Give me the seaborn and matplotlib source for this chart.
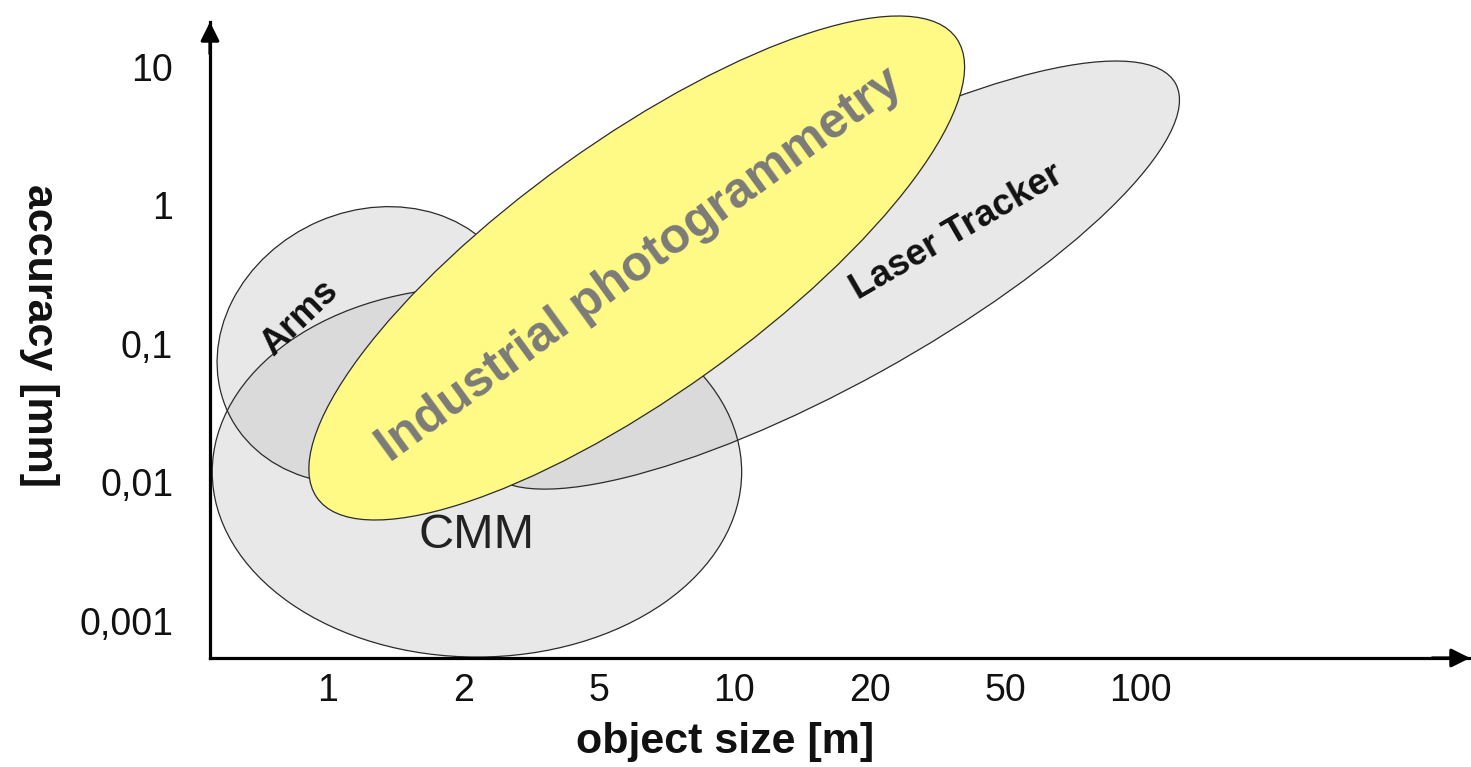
import numpy as np
import matplotlib
matplotlib.use("Agg")
import matplotlib.pyplot as plt
from matplotlib.patches import Ellipse
import seaborn as sns

# ---------------- data ----------------
size_labels = ["1", "2", "5", "10", "20", "50", "100"]          # object size [m]
accuracy_values = [10, 1, 0.1, 0.01, 0.001]                       # accuracy [mm]
accuracy_labels = ["10", "1", "0,1", "0,01", "0,001"]

# technology regions: centre on the size axis (tick-index units), centre in log10(accuracy),
# major / minor extent in the same units, tilt in degrees
region_names = ["Arms", "CMM", "Laser Tracker", "Industrial photogrammetry"]
region_size_center = [0.31, 1.10, 3.71, 2.28]
region_logacc_center = [-1.01, -1.925, -0.504, -0.453]
region_major = [2.31, 3.91, 5.80, 5.77]
region_minor = [1.94, 2.67, 1.58, 1.84]
region_tilt = [22.7, 0.0, 28.4, 35.0]

# label anchor for each region (same units)
label_size_pos = [-0.21, 1.10, 4.645, 2.304]
label_logacc_pos = [-0.814, -2.38, -0.193, -0.431]
label_rotation = [44, 0, 30, 36]

# ---------------- style ----------------
sns.set_theme(style="white")
plt.rcParams["font.family"] = ["Liberation Sans", "DejaVu Sans"]

W, H = 1471, 767
fig = plt.figure(figsize=(W / 100, H / 100), dpi=100)
ax = fig.add_axes([210 / W, (H - 658) / H, 1260 / W, 636 / H])

x_pos = np.arange(len(size_labels))
y_pos = np.log10(accuracy_values)

ax.set_xlim(-0.8715, 8.434)
ax.set_ylim(-3.267, 1.322)

gray_fill = "#c4c4c4"
edge_col = "#2b2b2b"
yellow = "#fffa86"

for i, name in enumerate(region_names):
    center = (region_size_center[i], region_logacc_center[i])
    if name == "Industrial photogrammetry":
        ax.add_patch(Ellipse(center, region_major[i], region_minor[i], angle=region_tilt[i],
                             facecolor=yellow, edgecolor=edge_col, lw=0.9, zorder=4,
                             clip_on=False))
    else:
        ax.add_patch(Ellipse(center, region_major[i], region_minor[i], angle=region_tilt[i],
                             facecolor=gray_fill, edgecolor="none", alpha=0.38, zorder=1,
                             clip_on=False))
        ax.add_patch(Ellipse(center, region_major[i], region_minor[i], angle=region_tilt[i],
                             fill=False, edgecolor=edge_col, lw=0.9, zorder=2,
                             clip_on=False))

label_style = {
    "Arms": dict(fontsize=26, fontweight="bold", color="#111111"),
    "CMM": dict(fontsize=35, fontweight="normal", color="#222222"),
    "Laser Tracker": dict(fontsize=26.5, fontweight="bold", color="#111111"),
    "Industrial photogrammetry": dict(fontsize=36, fontweight="bold", color="#7b7b78"),
}
for i, name in enumerate(region_names):
    ax.text(label_size_pos[i], label_logacc_pos[i], name, rotation=label_rotation[i],
            ha="center", va="center", zorder=5, **label_style[name])

# ticks
ax.set_xticks(x_pos)
ax.set_xticklabels(size_labels, fontsize=27, color="#111111")
ax.set_yticks(y_pos)
ax.set_yticklabels(accuracy_labels, fontsize=27, color="#111111")
ax.tick_params(axis="x", length=0, pad=11)
ax.tick_params(axis="y", length=0, pad=26.5)

sns.despine(ax=ax, top=True, right=True)
for side in ["left", "bottom"]:
    ax.spines[side].set_linewidth(2.3)
    ax.spines[side].set_color("black")
    ax.spines[side].set_zorder(6)

# arrow heads
ax.annotate("", xy=(0, 1), xycoords="axes fraction", xytext=(0, 0.95),
            arrowprops=dict(arrowstyle="-|>", color="black", lw=2.3,
                            mutation_scale=28, shrinkA=0, shrinkB=0), zorder=7)
ax.annotate("", xy=(1, 0), xycoords="axes fraction", xytext=(0.97, 0),
            arrowprops=dict(arrowstyle="-|>", color="black", lw=2.3,
                            mutation_scale=28, shrinkA=0, shrinkB=0), zorder=7)

fig.text(725 / W, 1 - 753 / H, "object size [m]", ha="center", va="baseline",
         fontsize=31, fontweight="bold", color="#111111")
fig.text(39 / W, 1 - 335 / H, "accuracy [mm]", ha="center", va="center", rotation=-90,
         fontsize=31, fontweight="bold", color="#111111")

fig.savefig("out.png", dpi=100, facecolor="white")
